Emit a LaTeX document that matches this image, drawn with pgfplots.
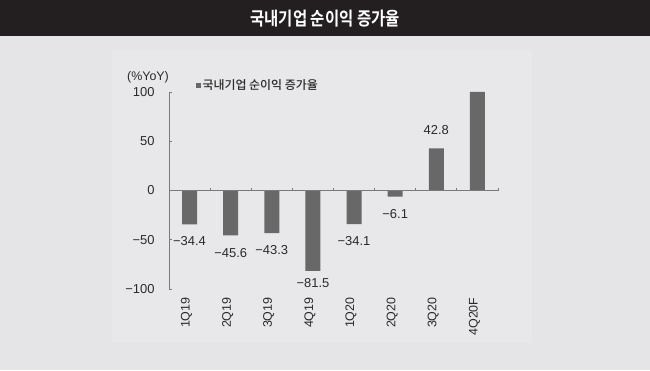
\documentclass[border=0pt]{standalone}
\usepackage{pgfplots}
\pgfplotsset{compat=1.18}
\usepackage{fontspec}
\setmainfont{Liberation Sans}
\newfontfamily\kr{Noto Sans CJK KR Medium}
\newfontfamily\krb{Noto Sans CJK KR Bold}
\definecolor{bg}{HTML}{E5E5E7}
\definecolor{panel}{HTML}{E8E8EA}
\definecolor{dark}{HTML}{231F20}
\definecolor{barc}{HTML}{686869}
\definecolor{axc}{HTML}{7A7A7C}
\definecolor{txt}{HTML}{2A2A2A}

\begin{document}
\begin{tikzpicture}[x=1bp,y=1bp]
\fill[bg] (0,0) rectangle (650,370);
\fill[panel] (112,27) rectangle (532,320);
\fill[dark] (0,334) rectangle (650,370);
\node[text=white, font=\krb\fontsize{18.5}{20}\selectfont, xscale=0.84] at (325,351) {국내기업 순이익 증가율};
\begin{axis}[
  at={(169bp,81bp)}, anchor=south west,
  scale only axis, width=329bp, height=197bp,
  xmin=-0.5, xmax=7.5, ymin=-100, ymax=100,
  axis x line*=bottom, axis y line*=left,
  x axis line style={draw=none},
  y axis line style={draw=axc, line width=1pt},
  xtick={0,...,7},
  xticklabels={1Q19,2Q19,3Q19,4Q19,1Q20,2Q20,3Q20,4Q20F},
  x tick label style={yshift=-5bp, xshift=-3bp, rotate=90, anchor=east, font=\fontsize{12.5}{14}\selectfont, text=txt},
  major x tick style={draw=none},
  ytick={-100,-50,0,50,100},
  yticklabels={−100,−50,0,50,100},
  y tick label style={xshift=-11bp, font=\fontsize{13}{15}\selectfont, text=txt},
  major y tick style={draw=axc, line width=0.8pt},
  tick align=inside,
  major tick length=3bp,
  clip=false,
  legend style={draw=none, fill=none, at={(0.08,1.035)}, anchor=west, font=\kr\fontsize{12}{14}\selectfont, text=txt, inner sep=0pt},
  legend image code/.code={\fill[barc] (0bp,-2.5bp) rectangle (5bp,2.5bp);},
  lab/.style={only marks, mark=none, nodes near coords, point meta=explicit symbolic, forget plot,
    every node near coord/.style={anchor=center, yshift=#1, font=\fontsize{13}{15}\selectfont, text=txt}},
]
\addplot[ybar, bar width=15bp, fill=barc, draw=none, bar shift=0pt] coordinates {
  (0,-34.4) (1,-45.6) (2,-43.3) (3,-81.5) (4,-34.1) (5,-6.1) (6,42.8) (7,100)};
\addlegendentry{국내기업 순이익 증가율}
\addplot[lab=-17bp] table[meta=lab]{
x y lab
0 -34.4 −34.4
2 -43.3 −43.3
4 -34.1 −34.1
};
\addplot[lab=-18bp] table[meta=lab]{
x y lab
1 -45.6 −45.6
5 -6.1 −6.1
};
\addplot[lab=-12bp] table[meta=lab]{
x y lab
3 -81.5 −81.5
};
\addplot[lab=18bp] table[meta=lab]{
x y lab
6 42.8 42.8
};
\draw[axc, line width=1pt] (axis cs:-0.5,0) -- (axis cs:7.5,0);
\pgfplotsinvokeforeach{0.5,1.5,2.5,3.5,4.5,5.5,6.5,7.5}{
  \draw[axc, line width=0.8pt] (axis cs:#1,0) -- ([yshift=3bp]axis cs:#1,0);
}
\node[font=\fontsize{12.5}{14}\selectfont, text=txt, anchor=south, xshift=-21bp, yshift=5bp] at (axis cs:-0.5,100) {(\%YoY)};
\end{axis}
\end{tikzpicture}
\end{document}
